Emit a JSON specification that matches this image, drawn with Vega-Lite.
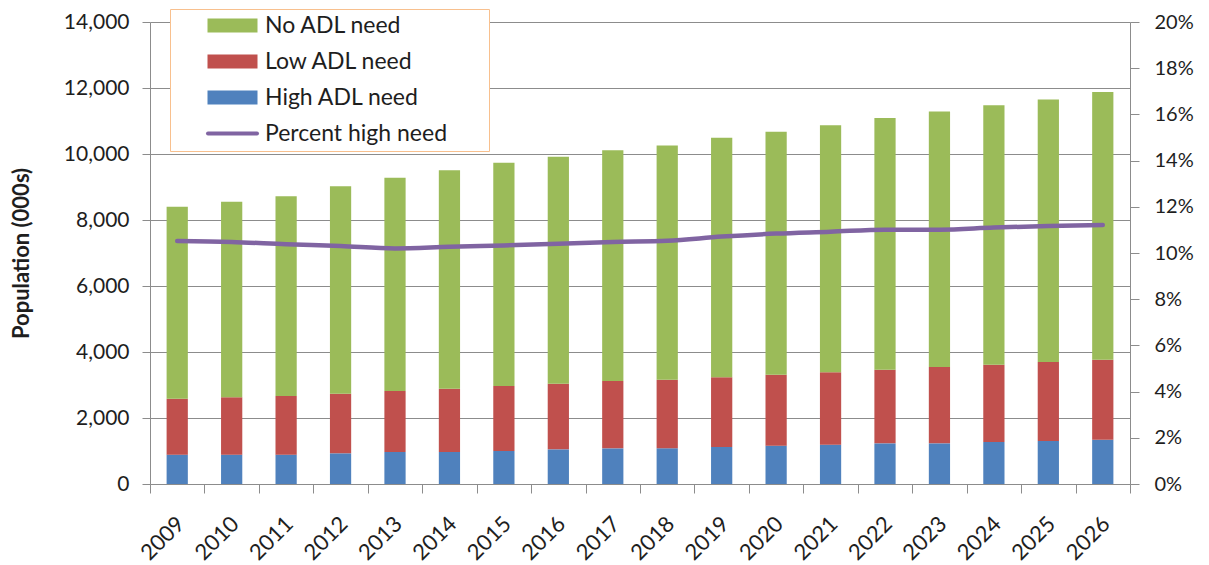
{
  "$schema": "https://vega.github.io/schema/vega-lite/v6.json",
  "width": 980,
  "height": 462,
  "autosize": {"type": "none"},
  "padding": {"left": 150, "top": 22, "right": 79, "bottom": 81},
  "background": "white",
  "config": {
    "font": "Lato",
    "view": {"stroke": null},
    "axis": {
      "labelFont": "Lato",
      "labelFontSize": 21,
      "labelColor": "#1e1e1e",
      "domainColor": "#8c8c8c",
      "tickColor": "#8c8c8c",
      "gridColor": "#8c8c8c",
      "titleFont": "Lato"
    }
  },
  "datasets": {
    "pop": [
      {"year": "2009", "need": "High ADL need", "value": 890},
      {"year": "2009", "need": "Low ADL need", "value": 1695},
      {"year": "2009", "need": "No ADL need", "value": 5815},
      {"year": "2010", "need": "High ADL need", "value": 890},
      {"year": "2010", "need": "Low ADL need", "value": 1737},
      {"year": "2010", "need": "No ADL need", "value": 5928},
      {"year": "2011", "need": "High ADL need", "value": 890},
      {"year": "2011", "need": "Low ADL need", "value": 1777},
      {"year": "2011", "need": "No ADL need", "value": 6053},
      {"year": "2012", "need": "High ADL need", "value": 930},
      {"year": "2012", "need": "Low ADL need", "value": 1807},
      {"year": "2012", "need": "No ADL need", "value": 6283},
      {"year": "2013", "need": "High ADL need", "value": 970},
      {"year": "2013", "need": "Low ADL need", "value": 1848},
      {"year": "2013", "need": "No ADL need", "value": 6462},
      {"year": "2014", "need": "High ADL need", "value": 970},
      {"year": "2014", "need": "Low ADL need", "value": 1919},
      {"year": "2014", "need": "No ADL need", "value": 6616},
      {"year": "2015", "need": "High ADL need", "value": 1000},
      {"year": "2015", "need": "Low ADL need", "value": 1970},
      {"year": "2015", "need": "No ADL need", "value": 6765},
      {"year": "2016", "need": "High ADL need", "value": 1050},
      {"year": "2016", "need": "Low ADL need", "value": 1990},
      {"year": "2016", "need": "No ADL need", "value": 6880},
      {"year": "2017", "need": "High ADL need", "value": 1080},
      {"year": "2017", "need": "Low ADL need", "value": 2041},
      {"year": "2017", "need": "No ADL need", "value": 6989},
      {"year": "2018", "need": "High ADL need", "value": 1080},
      {"year": "2018", "need": "Low ADL need", "value": 2082},
      {"year": "2018", "need": "No ADL need", "value": 7093},
      {"year": "2019", "need": "High ADL need", "value": 1121},
      {"year": "2019", "need": "Low ADL need", "value": 2111},
      {"year": "2019", "need": "No ADL need", "value": 7263},
      {"year": "2020", "need": "High ADL need", "value": 1162},
      {"year": "2020", "need": "Low ADL need", "value": 2151},
      {"year": "2020", "need": "No ADL need", "value": 7362},
      {"year": "2021", "need": "High ADL need", "value": 1192},
      {"year": "2021", "need": "Low ADL need", "value": 2192},
      {"year": "2021", "need": "No ADL need", "value": 7486},
      {"year": "2022", "need": "High ADL need", "value": 1232},
      {"year": "2022", "need": "Low ADL need", "value": 2232},
      {"year": "2022", "need": "No ADL need", "value": 7626},
      {"year": "2023", "need": "High ADL need", "value": 1232},
      {"year": "2023", "need": "Low ADL need", "value": 2313},
      {"year": "2023", "need": "No ADL need", "value": 7740},
      {"year": "2024", "need": "High ADL need", "value": 1273},
      {"year": "2024", "need": "Low ADL need", "value": 2343},
      {"year": "2024", "need": "No ADL need", "value": 7859},
      {"year": "2025", "need": "High ADL need", "value": 1303},
      {"year": "2025", "need": "Low ADL need", "value": 2394},
      {"year": "2025", "need": "No ADL need", "value": 7958},
      {"year": "2026", "need": "High ADL need", "value": 1343},
      {"year": "2026", "need": "Low ADL need", "value": 2425},
      {"year": "2026", "need": "No ADL need", "value": 8112}
    ],
    "pct": [
      {"year": "2009", "share": 0.1052},
      {"year": "2010", "share": 0.1048},
      {"year": "2011", "share": 0.1038},
      {"year": "2012", "share": 0.1030},
      {"year": "2013", "share": 0.1020},
      {"year": "2014", "share": 0.1027},
      {"year": "2015", "share": 0.1033},
      {"year": "2016", "share": 0.1040},
      {"year": "2017", "share": 0.1048},
      {"year": "2018", "share": 0.1053},
      {"year": "2019", "share": 0.1071},
      {"year": "2020", "share": 0.1084},
      {"year": "2021", "share": 0.1092},
      {"year": "2022", "share": 0.1101},
      {"year": "2023", "share": 0.1101},
      {"year": "2024", "share": 0.1110},
      {"year": "2025", "share": 0.1117},
      {"year": "2026", "share": 0.1121}
    ]
  },
  "encoding": {
    "x": {
      "field": "year",
      "type": "ordinal",
      "scale": {"paddingInner": 0, "paddingOuter": 0},
      "axis": {
        "title": null,
        "labelAngle": -45,
        "labelFontSize": 22,
        "labelOffset": -4,
        "tickBand": "extent",
        "tickSize": 9,
        "labelPadding": 20,
        "grid": false
      }
    }
  },
  "layer": [
    {
      "data": {"name": "pop"},
      "mark": {"type": "bar", "width": {"band": 0.39}},
      "encoding": {
        "y": {
          "field": "value",
          "type": "quantitative",
          "stack": "zero",
          "scale": {"domain": [0, 14000], "nice": false},
          "axis": {
            "title": "Population (000s)",
            "titleFontSize": 22,
            "titleFontWeight": "bold",
            "titleColor": "#1e1e1e",
            "titlePadding": 30,
            "values": [0, 2000, 4000, 6000, 8000, 10000, 12000, 14000],
            "format": ",d",
            "tickSize": 8,
            "labelPadding": 13,
            "grid": true,
            "gridWidth": 1
          }
        },
        "color": {
          "field": "need",
          "type": "nominal",
          "scale": {
            "domain": ["No ADL need", "Low ADL need", "High ADL need", "Percent high need"],
            "range": ["#9BBB59", "#C0504D", "#4F81BD", "#8064A2"]
          },
          "legend": {
            "title": null,
            "orient": "none",
            "legendX": 20,
            "legendY": -13,
            "direction": "vertical",
            "fillColor": "white",
            "strokeColor": "#F8C08E",
            "padding": 5,
            "labelFont": "Lato",
            "labelFontSize": 23,
            "labelColor": "#1e1e1e",
            "labelLimit": 400,
            "symbolSize": 400,
            "symbolStrokeWidth": 0,
            "symbolOffset": 46,
            "labelOffset": 21,
            "rowPadding": 12,
            "encode": {
              "symbols": {
                "update": {
                  "shape": {"signal": "datum.value === 'Percent high need' ? 'M-2.45,0H2.45M24.3,0' : 'M-2.5,-0.7H2.5V0.7H-2.5Z'"},
                  "fill": {"signal": "scale('color', datum.value)"},
                  "stroke": {"signal": "scale('color', datum.value)"},
                  "strokeWidth": {"signal": "datum.value === 'Percent high need' ? 4 : 0"},
                  "strokeCap": {"value": "round"},
                  "opacity": {"value": 1}
                }
              }
            }
          }
        },
        "order": {"field": "need", "sort": "ascending"}
      }
    },
    {
      "data": {"name": "pct"},
      "mark": {"type": "line", "strokeWidth": 4.5, "interpolate": "monotone", "strokeCap": "round"},
      "encoding": {
        "y": {
          "field": "share",
          "type": "quantitative",
          "scale": {"domain": [0, 0.2], "nice": false},
          "axis": {
            "title": null,
            "orient": "right",
            "labelFontSize": 20,
            "values": [0, 0.02, 0.04, 0.06, 0.08, 0.1, 0.12, 0.14, 0.16, 0.18, 0.2],
            "format": ".0%",
            "tickSize": 9,
            "labelPadding": 15,
            "grid": false
          }
        },
        "color": {"datum": "Percent high need", "type": "nominal"}
      }
    }
  ],
  "resolve": {"scale": {"y": "independent"}}
}
